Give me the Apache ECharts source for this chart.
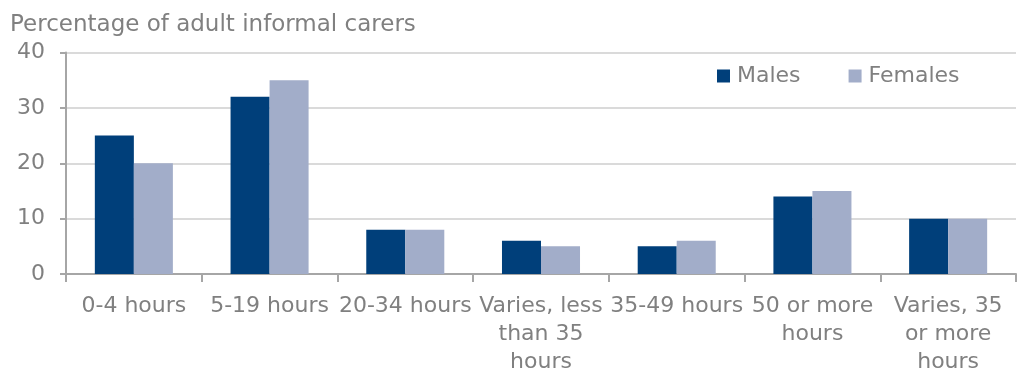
<!DOCTYPE html>
<html>
<head>
<meta charset="utf-8">
<title>Adult informal carers by hours of care</title>
<script src="https://cdn.jsdelivr.net/npm/echarts@6/dist/echarts.min.js"></script>
<style>
  html, body { margin: 0; padding: 0; background: #ffffff; }
  #chart { width: 1024px; height: 376px; }
</style>
</head>
<body>
<div id="chart"></div>
<script>
// Hours of care per week
var categories = [
  '0-4 hours',
  '5-19 hours',
  '20-34 hours',
  'Varies, less\nthan 35\nhours',
  '35-49 hours',
  '50 or more\nhours',
  'Varies, 35\nor more\nhours'
];

// Percentage of adult informal carers
var males   = [25, 32, 8, 6, 5, 14, 10];
var females = [20, 35, 8, 5, 6, 15, 10];

var yTicks = { min: 0, max: 40, interval: 10 };

var FONT = 'DejaVu Sans';
var TEXT = '#808080';
var AXIS = '#a6a6a6';
var GRID = '#dadada';

var chart = echarts.init(document.getElementById('chart'), null, { renderer: 'canvas' });

chart.setOption({
  animation: false,
  textStyle: { fontFamily: FONT },
  title: {
    text: 'Percentage of adult informal carers',
    left: 5,
    top: 8,
    textStyle: { fontFamily: FONT, fontSize: 23, fontWeight: 'normal', color: TEXT, lineHeight: 25 }
  },
  legend: {
    left: 712,
    top: 60,
    itemWidth: 13,
    itemHeight: 13,
    itemGap: 48,
    icon: 'rect',
    textStyle: { fontFamily: FONT, fontSize: 22, color: TEXT, lineHeight: 22, padding: [0, 0, 0, 2] },
    data: ['Males', 'Females']
  },
  grid: { left: 66, right: 8, top: 52.5, bottom: 101, containLabel: false },
  xAxis: {
    type: 'category',
    data: categories,
    boundaryGap: true,
    axisLine: { show: true, lineStyle: { color: AXIS, width: 2 } },
    axisTick: { show: true, length: 8, lineStyle: { color: AXIS, width: 2 } },
    axisLabel: {
      interval: 0,
      margin: 18,
      fontFamily: FONT,
      fontSize: 22,
      color: TEXT,
      lineHeight: 28,
      align: 'center'
    },
    splitLine: { show: false }
  },
  yAxis: {
    type: 'value',
    min: yTicks.min,
    max: yTicks.max,
    interval: yTicks.interval,
    axisLine: { show: true, lineStyle: { color: AXIS, width: 2 } },
    axisTick: { show: true, length: 6, lineStyle: { color: AXIS, width: 2 } },
    axisLabel: { margin: 21, fontFamily: FONT, fontSize: 22, color: TEXT },
    splitLine: { show: true, lineStyle: { color: GRID, width: 2 } }
  },
  series: [
    {
      name: 'Males',
      type: 'bar',
      data: males,
      barGap: '0%',
      barCategoryGap: '42.5%',
      itemStyle: { color: '#003f7a' }
    },
    {
      name: 'Females',
      type: 'bar',
      data: females,
      barGap: '0%',
      barCategoryGap: '42.5%',
      itemStyle: { color: '#a2adc9' }
    }
  ]
});
</script>
</body>
</html>
